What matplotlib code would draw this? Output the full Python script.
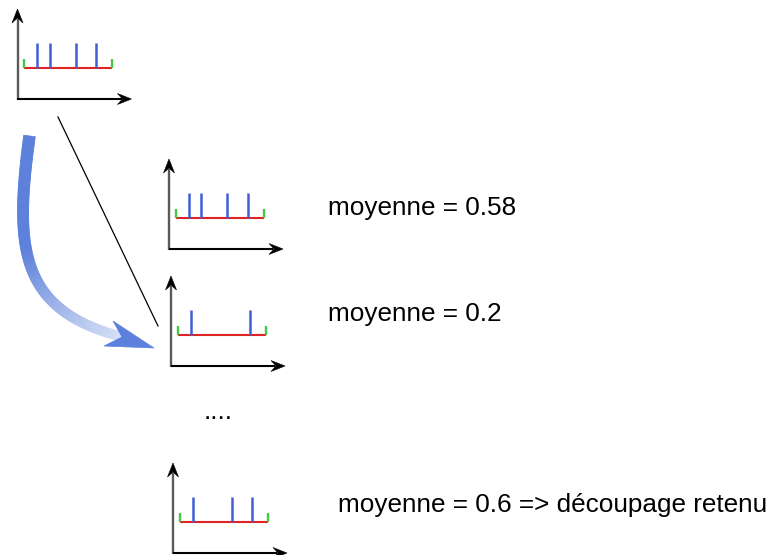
import numpy as np
import matplotlib.pyplot as plt
from matplotlib.collections import PolyCollection
from matplotlib.patches import Polygon

plt.rcParams['font.family'] = ['Liberation Sans', 'DejaVu Sans']

# positions des pics (fraction du segment rouge) pour chaque découpage
spikes_initial = [0.15, 0.29, 0.59, 0.82]
spikes_a = [0.15, 0.29, 0.59, 0.82]
spikes_b = [0.15, 0.82]
spikes_c = [0.15, 0.60, 0.82]
moyennes = [0.58, 0.2, 0.6]
labels = [f"moyenne = {moyennes[0]}",
          f"moyenne = {moyennes[1]}",
          f"moyenne = {moyennes[2]} => découpage retenu"]

BLUE = '#3f5fd2'
RED = '#e02424'
GREEN = '#45c945'
ARROW_BLUE = np.array([0.36, 0.50, 0.86])


def head(ax, tip, direction, length=14, half_w=5.5, notch=9):
    d = np.array(direction, dtype=float)
    d /= np.linalg.norm(d)
    n = np.array([-d[1], d[0]])
    tip = np.array(tip, dtype=float)
    back = tip - d * length
    pts = [tip, back + n * half_w, tip - d * notch, back - n * half_w]
    ax.add_patch(Polygon(pts, closed=True, facecolor='black', edgecolor='black', lw=0.4, zorder=3))


def draw_panel(ax, ox, oy, spikes):
    # axes du petit graphe
    ax.plot([ox, ox], [oy + 0.5, oy - 80], color='#5a5a5a', lw=1.7, solid_capstyle='butt')
    head(ax, (ox, oy - 90), (0, -1))
    ax.plot([ox - 0.5, ox + 104], [oy, oy], color='black', lw=1.5, solid_capstyle='butt')
    head(ax, (ox + 114, oy), (1, 0))
    x0, x1 = ox + 6.5, ox + 94.5
    yb = oy - 31
    ax.plot([x0, x1], [yb, yb], color=RED, lw=1.5, solid_capstyle='butt')
    for xe in (x0, x1):
        ax.plot([xe, xe], [yb, yb - 9], color=GREEN, lw=1.7, solid_capstyle='butt')
    for s in spikes:
        xs = x0 + s * (x1 - x0)
        ax.plot([xs, xs], [yb, yb - 25], color=BLUE, lw=1.8, solid_capstyle='butt')


def draw_curved_arrow(ax):
    p0 = np.array([29.5, 136])
    p1 = np.array([14, 250])
    p2 = np.array([20, 310])
    p3 = np.array([122, 337])
    t = np.linspace(0, 1, 160)[:, None]
    pts = ((1 - t) ** 3) * p0 + 3 * ((1 - t) ** 2) * t * p1 + 3 * (1 - t) * t ** 2 * p2 + t ** 3 * p3
    d = np.gradient(pts, axis=0)
    d /= np.linalg.norm(d, axis=1)[:, None]
    n = np.column_stack([-d[:, 1], d[:, 0]])
    w = np.linspace(5.8, 4.6, len(pts))[:, None]
    left = pts + n * w
    right = pts - n * w
    quads, cols = [], []
    for i in range(len(pts) - 1):
        quads.append([left[i], left[i + 1], right[i + 1], right[i]])
        tt = i / (len(pts) - 2)
        mix = 0.0 if tt < 0.4 else 0.75 * (tt - 0.4) / 0.6
        cols.append(ARROW_BLUE * (1 - mix) + np.ones(3) * mix)
    pc = PolyCollection(quads, facecolors=cols, edgecolors=cols, linewidths=0.6)
    ax.add_collection(pc)
    arrow_head = Polygon([[154, 348], [113, 321], [122, 337], [104, 346]], closed=True,
                         facecolor=ARROW_BLUE, edgecolor=ARROW_BLUE, lw=0.5)
    ax.add_patch(arrow_head)


fig = plt.figure(figsize=(7.71, 5.55), dpi=100)
ax = fig.add_axes([0, 0, 1, 1])
ax.set_xlim(0, 771)
ax.set_ylim(555, 0)
ax.axis('off')

draw_panel(ax, 17.5, 99, spikes_initial)
draw_panel(ax, 169, 249, spikes_a)
draw_panel(ax, 171, 366, spikes_b)
draw_panel(ax, 173, 553, spikes_c)

ax.plot([58, 158], [117, 326], color='black', lw=0.9)
draw_curved_arrow(ax)

ax.text(328, 215, labels[0], fontsize=18.8, va='baseline', ha='left')
ax.text(328, 321, labels[1], fontsize=18.8, va='baseline', ha='left')
ax.text(338, 512, labels[2], fontsize=18.8, va='baseline', ha='left')
ax.text(218, 419, '....', fontsize=18.8, va='baseline', ha='center')

fig.savefig('out.png', dpi=100)
